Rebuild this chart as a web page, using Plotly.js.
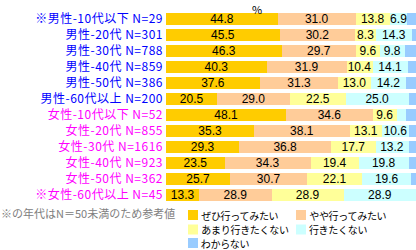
<!DOCTYPE html>
<html><head><meta charset="utf-8">
<script src="https://cdn.plot.ly/plotly-3.0.1.min.js"></script>
<style>
html,body{margin:0;padding:0;background:#fff;}
.legtext{letter-spacing:-0.3px;}
.ytick text{letter-spacing:0.5px;}
</style>
</head><body>
<div id="chart" style="width:416px;height:250px;"></div>
<script>
const categories = ["※男性-10代以下 N=29","男性-20代 N=301","男性-30代 N=788","男性-40代 N=859","男性-50代 N=386","男性-60代以上 N=200",
  "女性-10代以下 N=52","女性-20代 N=855","女性-30代 N=1616","女性-40代 N=923","女性-50代 N=362","※女性-60代以上 N=45"];
const labelColors = ["#0000FF","#0000FF","#0000FF","#0000FF","#0000FF","#0000FF","#FF00FF","#FF00FF","#FF00FF","#FF00FF","#FF00FF","#FF00FF"];
const seriesNames = ["ぜひ行ってみたい","やや行ってみたい","あまり行きたくない","行きたくない","わからない"];
const seriesColors = ["#FFCC00","#FFCC99","#FFFF99","#CCFFFF","#99CCFF"];
const zehi    = [44.8,45.5,46.3,40.3,37.6,20.5,48.1,35.3,29.3,23.5,25.7,13.3];
const yaya    = [31.0,30.2,29.7,31.9,31.3,29.0,34.6,38.1,36.8,34.3,30.7,28.9];
const amari   = [13.8,8.3,9.6,10.4,13.0,22.5,9.6,13.1,17.7,19.4,22.1,28.9];
const ikitaku = [6.9,14.3,9.8,14.1,14.2,25.0,3.8,10.6,13.2,19.8,19.6,28.9];
const wakaran = [3.5,1.7,4.6,3.3,3.9,3.0,3.9,2.9,3.0,3.0,1.9,0.0];
const footnote = "※の年代はN＝50未満のため参考値";
const unitLabel = "%";

const series = [zehi,yaya,amari,ikitaku,wakaran];
const JP = '"Noto Sans CJK JP", sans-serif';

const traces = series.map((vals,i)=>({
  type:'bar', orientation:'h', name:seriesNames[i],
  y:categories, x:vals,
  marker:{color:seriesColors[i], line:{width:0}},
  text: vals.map(v => (i<4 && v>=5) ? v.toFixed(1) : ''),
  textposition:'inside', insidetextanchor:'middle', textangle:0,
  textfont:{family:'"Liberation Sans", Arial, sans-serif', size:12, color:'#000'},
  hoverinfo:'none', showlegend:false
}));

const L=166, T=11, W=250, H=192;
const xp = px => (px-L)/W;
const yp = py => (T+H-py)/H;

const shapes=[], annotations=[];
const legendPos = [[188,215],[296,215],[188,229.5],[296,229.5],[188,243]];
seriesNames.forEach((n,i)=>{
  const [sx,sy]=legendPos[i];
  shapes.push({type:'rect', xref:'paper', yref:'paper', x0:xp(sx), x1:xp(sx+10), y0:yp(sy+5), y1:yp(sy-5),
    fillcolor:seriesColors[i], line:{width:0}});
  annotations.push({xref:'paper', yref:'paper', x:xp(sx+11), y:yp(sy), xanchor:'left', yanchor:'middle',
    text:n, showarrow:false, borderpad:0, font:{family:JP, size:10, color:'#000'}});
});
annotations.push({xref:'paper', yref:'paper', x:xp(0), y:yp(213), xanchor:'left', yanchor:'middle',
  text:footnote, showarrow:false, borderpad:0, font:{family:JP, size:11, color:'#808080'}});
annotations.push({xref:'paper', yref:'paper', x:xp(257), y:yp(0), xanchor:'center', yanchor:'top',
  text:unitLabel, showarrow:false, borderpad:0, font:{family:JP, size:11, color:'#000'}});

const layout = {
  width:416, height:250,
  margin:{l:L, r:0, t:T, b:250-T-H, pad:0},
  barmode:'stack', bargap:0.2,
  paper_bgcolor:'#fff', plot_bgcolor:'#fff',
  uniformtext:{mode:'show', minsize:12},
  xaxis:{range:[0,100], showticklabels:false, showgrid:false, zeroline:false, showline:false, ticks:''},
  yaxis:{type:'category', autorange:'reversed', showgrid:false, zeroline:false, showline:false, ticks:'',
    tickvals:categories,
    ticktext:categories.map((c,i)=>`<span style="color:${labelColors[i]}">${c}</span>`),
    tickfont:{family:JP, size:12}, ticklabelstandoff:2},
  shapes, annotations, showlegend:false
};
Plotly.newPlot('chart', traces, layout, {staticPlot:true, displayModeBar:false}).then(gd=>{
  const anns = gd.querySelectorAll('.annotation-text');
  anns.forEach((t,i)=>{ if(i<seriesNames.length) t.classList.add('legtext'); });
});
</script>
</body></html>
